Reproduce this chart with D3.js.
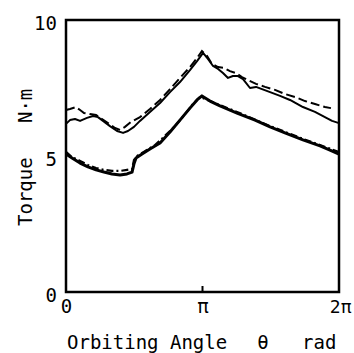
<!DOCTYPE html>
<html><head><meta charset="utf-8">
<script src="https://cdn.jsdelivr.net/npm/d3@7"></script>
<style>
html,body{margin:0;padding:0;background:#fff;}
text{font-family:"DejaVu Sans Mono",monospace;fill:#000;}
</style></head>
<body><svg id="c" width="354" height="353"></svg>
<script>
// x in multiples of pi, y in N·m
const upperSolidX = [0,0.029,0.066,0.103,0.154,0.198,0.234,0.271,0.322,0.374,0.418,0.454,0.498,0.542,0.615,0.689,0.762,0.835,0.908,0.960,1.004,1.040,1.077,1.114,1.150,1.187,1.223,1.260,1.297,1.348,1.392,1.436,1.495,1.568,1.641,1.736,1.824,1.897,1.949,2.0];
const upperSolidY = [6.18,6.32,6.36,6.29,6.40,6.47,6.43,6.29,6.10,5.92,5.85,5.92,6.07,6.29,6.62,6.95,7.35,7.72,8.16,8.49,8.79,8.57,8.31,8.20,8.05,7.87,7.94,7.94,7.83,7.50,7.54,7.46,7.35,7.21,7.06,6.80,6.62,6.43,6.29,6.21];
const upperDashX = [0,0.029,0.073,0.103,0.132,0.176,0.220,0.264,0.315,0.359,0.396,0.432,0.476,0.542,0.615,0.689,0.762,0.835,0.908,0.960,0.996,1.033,1.070,1.114,1.158,1.201,1.245,1.289,1.333,1.392,1.458,1.531,1.604,1.678,1.751,1.824,1.897,1.941];
const upperDashY = [6.69,6.73,6.80,6.69,6.58,6.54,6.51,6.36,6.18,6.03,5.96,6.07,6.25,6.43,6.73,7.06,7.46,7.87,8.27,8.60,8.86,8.68,8.38,8.27,8.24,8.12,8.05,7.90,7.79,7.65,7.54,7.43,7.28,7.17,7.02,6.91,6.80,6.76];
const lowerSolidX = [0,0.044,0.103,0.161,0.220,0.278,0.337,0.396,0.447,0.484,0.498,0.513,0.557,0.615,0.689,0.762,0.835,0.908,0.960,0.996,1.055,1.128,1.253,1.385,1.495,1.604,1.736,1.861,1.934,2.0];
const lowerSolidY = [5.07,4.93,4.74,4.60,4.49,4.41,4.34,4.30,4.34,4.41,4.71,4.93,5.07,5.26,5.48,5.88,6.32,6.76,7.06,7.21,7.02,6.84,6.58,6.32,6.07,5.85,5.59,5.37,5.22,5.07];
const lowerDashDotX = [0,0.044,0.103,0.161,0.220,0.278,0.337,0.396,0.447,0.484,0.498,0.520,0.579,0.652,0.725,0.799,0.872,0.930,0.982,1.055,1.253,1.495,1.736,2.0];
const lowerDashDotY = [5.15,4.96,4.82,4.67,4.56,4.49,4.45,4.45,4.49,4.52,4.85,5.00,5.18,5.40,5.74,6.10,6.54,6.91,7.17,7.02,6.62,6.10,5.63,5.15];
const xTickValues = [0,1,2];
const xTickLabels = ["0","π","2π"];
const yTickValues = [0,5,10];
const yTickLabels = ["0","5","10"];

const svg = d3.select("#c");
const x = d3.scaleLinear().domain([0,2]).range([66,339]);
const y = d3.scaleLinear().domain([0,10]).range([292,20]);

const line = d3.line().x(d=>x(d[0])).y(d=>y(d[1]));
function pts(xs,ys){return xs.map((v,i)=>[v,ys[i]]);}

svg.append("path").attr("d",line(pts(upperSolidX,upperSolidY)))
  .attr("fill","none").attr("stroke","#000").attr("stroke-width",2).attr("stroke-linejoin","round");
svg.append("path").attr("d",line(pts(upperDashX,upperDashY)))
  .attr("fill","none").attr("stroke","#000").attr("stroke-width",2).attr("stroke-dasharray","9,4");
svg.append("path").attr("d",line(pts(lowerSolidX,lowerSolidY)))
  .attr("fill","none").attr("stroke","#000").attr("stroke-width",3).attr("stroke-linejoin","round");
svg.append("path").attr("d",line(pts(lowerDashDotX,lowerDashDotY)))
  .attr("fill","none").attr("stroke","#000").attr("stroke-width",2.2).attr("stroke-dasharray","7,3,2,3");

// frame
svg.append("rect").attr("x",x(0)).attr("y",y(10)).attr("width",x(2)-x(0)).attr("height",y(0)-y(10))
  .attr("fill","none").attr("stroke","#000").attr("stroke-width",2.5);

// x axis
const xAxis = d3.axisBottom(x).tickValues(xTickValues).tickSize(0).tickPadding(0)
  .tickFormat((d,i)=>xTickLabels[i]);
const gx = svg.append("g").attr("transform",`translate(0,${y(0)})`).call(xAxis);
gx.select(".domain").remove();
gx.selectAll("text").attr("font-size",(d,i)=>i===2?18:19).attr("y",21).attr("dy",0)
  .attr("fill","#000").style("font-family","DejaVu Sans Mono")
  .attr("text-anchor",(d,i)=>i===2?"end":"middle")
  .attr("dx",(d,i)=>i===2?"12":"0");
// pi tick
svg.append("line").attr("x1",x(1)).attr("x2",x(1)).attr("y1",y(0)).attr("y2",y(0)-6)
  .attr("stroke","#000").attr("stroke-width",2);

// y axis
const yAxis = d3.axisLeft(y).tickValues(yTickValues).tickSize(0).tickPadding(0)
  .tickFormat((d,i)=>yTickLabels[i]);
const gy = svg.append("g").attr("transform",`translate(${x(0)-9},0)`).call(yAxis);
gy.select(".domain").remove();
gy.selectAll("text").attr("font-size",19).attr("x",0).attr("dy","0.5em")
  .attr("fill","#000").style("font-family","DejaVu Sans Mono");

// axis titles
svg.append("text").attr("x",67).attr("y",349).attr("font-size",19).text("Orbiting Angle");
svg.append("text").attr("x",263).attr("y",349).attr("font-size",19).attr("text-anchor","middle").text("θ");
svg.append("text").attr("x",302).attr("y",349).attr("font-size",19).text("rad");
svg.append("text").attr("transform","translate(32,226) rotate(-90)").attr("font-size",19)
  .attr("xml:space","preserve").style("white-space","pre").text("Torque   N·m");
</script></body></html>
